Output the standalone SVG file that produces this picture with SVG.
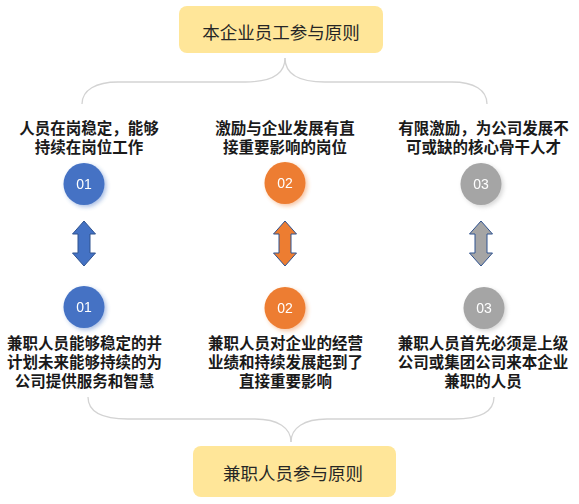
<svg xmlns="http://www.w3.org/2000/svg" width="579" height="504" viewBox="0 0 579 504">
<defs>
<style>
.box{fill:#FFE699;}
.boxt{font-family:"Liberation Sans","Noto Sans CJK SC",sans-serif;font-size:17.5px;fill:#262626;text-anchor:middle;}
.desc{font-family:"Liberation Sans","Noto Sans CJK SC",sans-serif;font-size:15.5px;font-weight:bold;fill:#1a1a1a;text-anchor:middle;}
.num{font-family:"Liberation Sans",Arial,sans-serif;font-size:14px;fill:#ffffff;text-anchor:middle;}
.brace{fill:none;stroke:#D3D3D3;stroke-width:1.3;}
.arr{stroke:#2F528F;stroke-width:1;}
.blue{fill:#4472C4;}
.orange{fill:#ED7D31;}
.gray{fill:#A5A5A5;}
</style>
<filter id="glow" x="-50%" y="-50%" width="200%" height="200%">
<feGaussianBlur in="SourceGraphic" stdDeviation="2.2" result="b"/>
<feOffset in="b" dx="1.5" dy="1.5" result="o"/>
<feComponentTransfer in="o" result="f"><feFuncA type="linear" slope="0.45"/></feComponentTransfer>
<feMerge><feMergeNode in="f"/><feMergeNode in="SourceGraphic"/></feMerge>
</filter>
</defs>
<rect width="579" height="504" fill="#ffffff"/>

<g id="connectors">
<path class="brace" d="M285,58 C285,74 272,82 245,82 L118,82 C96,82 82,90 82,104"/>
<path class="brace" d="M285,58 C285,74 298,82 325,82 L452,82 C474,82 487,90 487,104"/>
<path class="brace" d="M88,397 C88,411 100,419 128,419 L255,419 C278,419 291,428 291,442"/>
<path class="brace" d="M494,397 C494,411 482,419 454,419 L327,419 C304,419 291,428 291,442"/>
<polygon class="arr blue" points="84,221 95.5,234 90,234 90,253 95.5,253 84,266 72.5,253 78,253 78,234 72.5,234"/>
<polygon class="arr orange" points="285,221 296.5,234 291,234 291,253 296.5,253 285,266 273.5,253 279,253 279,234 273.5,234"/>
<polygon class="arr gray" points="481,221 492.5,234 487,234 487,253 492.5,253 481,266 469.5,253 475,253 475,234 469.5,234"/>
</g>

<g id="top-box">
<rect class="box" x="179" y="6" width="204" height="47" rx="8"/>
<text class="boxt" x="281" y="38.5">本企业员工参与原则</text>
</g>

<g id="top-desc-1">
<text class="desc" x="89" y="134">人员在岗稳定，能够<tspan x="89" dy="19">持续在岗位工作</tspan></text>
</g>
<g id="top-desc-2">
<text class="desc" x="285" y="134">激励与企业发展有直<tspan x="285" dy="19">接重要影响的岗位</tspan></text>
</g>
<g id="top-desc-3">
<text class="desc" x="483.5" y="134">有限激励，为公司发展不<tspan x="483.5" dy="19">可或缺的核心骨干人才</tspan></text>
</g>

<g id="top-circle-1" filter="url(#glow)">
<ellipse class="blue" cx="84" cy="184" rx="20.5" ry="21"/>
<text class="num" x="84" y="189">01</text>
</g>
<g id="top-circle-2" filter="url(#glow)">
<ellipse class="orange" cx="285" cy="183" rx="20.5" ry="21"/>
<text class="num" x="285" y="188">02</text>
</g>
<g id="top-circle-3" filter="url(#glow)">
<ellipse class="gray" cx="481" cy="184" rx="20.5" ry="21"/>
<text class="num" x="481" y="189">03</text>
</g>

<g id="bottom-circle-1" filter="url(#glow)">
<ellipse class="blue" cx="84" cy="307" rx="20.5" ry="21"/>
<text class="num" x="84" y="312">01</text>
</g>
<g id="bottom-circle-2" filter="url(#glow)">
<ellipse class="orange" cx="285" cy="308" rx="20.5" ry="21"/>
<text class="num" x="285" y="313">02</text>
</g>
<g id="bottom-circle-3" filter="url(#glow)">
<ellipse class="gray" cx="484" cy="308" rx="20.5" ry="21"/>
<text class="num" x="484" y="313">03</text>
</g>

<g id="bottom-desc-1">
<text class="desc" x="84.5" y="349">兼职人员能够稳定的并<tspan x="84.5" dy="19">计划未来能够持续的为</tspan><tspan x="84.5" dy="19">公司提供服务和智慧</tspan></text>
</g>
<g id="bottom-desc-2">
<text class="desc" x="285.5" y="349">兼职人员对企业的经营<tspan x="285.5" dy="19">业绩和持续发展起到了</tspan><tspan x="285.5" dy="19">直接重要影响</tspan></text>
</g>
<g id="bottom-desc-3">
<text class="desc" x="483" y="349">兼职人员首先必须是上级<tspan x="483" dy="19">公司或集团公司来本企业</tspan><tspan x="483" dy="19">兼职的人员</tspan></text>
</g>

<g id="bottom-box">
<rect class="box" x="193" y="446" width="203" height="51" rx="8"/>
<text class="boxt" x="293" y="479.5">兼职人员参与原则</text>
</g>
</svg>
